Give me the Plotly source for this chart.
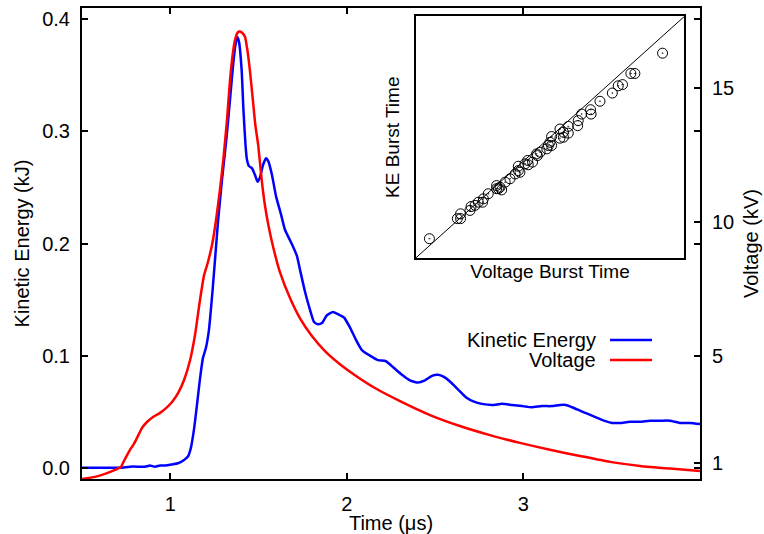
import plotly.graph_objects as go

# ---- Kinetic energy (left axis, kJ) ----
ke_t = [0.50,0.602,0.715,0.772,0.828,0.857,0.885,0.913,0.942,0.970,
        1.010,1.044,1.078,1.100,1.117,1.134,1.151,1.168,1.185,1.202,
        1.219,1.240,1.270,1.293,1.319,1.338,1.357,1.369,1.380,1.389,
        1.404,1.414,1.426,1.434,1.446,1.463,1.480,1.494,1.508,1.525,
        1.542,1.556,1.576,1.599,1.627,1.650,1.687,1.717,1.734,1.763,
        1.791,1.814,1.836,1.859,1.887,1.921,1.950,1.984,2.018,2.052,
        2.085,2.131,2.176,2.221,2.267,2.312,2.357,2.403,2.442,2.482,
        2.516,2.550,2.584,2.629,2.674,2.720,2.765,2.822,2.878,2.935,
        2.992,3.048,3.105,3.161,3.207,3.241,3.275,3.320,3.365,3.411,
        3.456,3.501,3.546,3.603,3.660,3.716,3.773,3.830,3.886,3.943,4.000]
ke = [0.000,0.000,0.000,0.001,0.001,0.001,0.002,0.001,0.002,0.002,
      0.003,0.004,0.007,0.010,0.018,0.034,0.056,0.079,0.098,0.107,
      0.123,0.159,0.219,0.257,0.295,0.328,0.361,0.377,0.384,0.380,
      0.355,0.320,0.288,0.275,0.269,0.267,0.261,0.255,0.259,0.270,
      0.276,0.273,0.261,0.242,0.226,0.212,0.200,0.189,0.177,0.157,
      0.141,0.130,0.128,0.129,0.136,0.139,0.137,0.134,0.125,0.114,
      0.105,0.100,0.096,0.095,0.089,0.083,0.078,0.076,0.078,0.082,
      0.083,0.081,0.077,0.070,0.063,0.059,0.057,0.056,0.057,0.056,
      0.055,0.054,0.055,0.055,0.056,0.056,0.054,0.051,0.048,0.045,
      0.042,0.040,0.040,0.041,0.041,0.042,0.042,0.042,0.040,0.040,0.039]

# ---- Voltage (right axis, kV) ----
v_t = [0.500,0.574,0.630,0.687,0.721,0.732,0.749,0.772,0.794,0.817,
       0.840,0.868,0.902,0.942,0.976,1.010,1.044,1.078,1.112,1.140,
       1.168,1.191,1.213,1.236,1.259,1.281,1.300,1.321,1.338,1.355,
       1.366,1.378,1.389,1.406,1.423,1.437,1.451,1.468,1.482,1.498,
       1.518,1.536,1.559,1.587,1.621,1.678,1.734,1.802,1.876,1.961,
       2.046,2.159,2.301,2.471,2.640,2.810,2.980,3.150,3.320,3.490,
       3.660,3.830,4.000]
volt = [0.40,0.48,0.59,0.74,0.85,1.00,1.22,1.49,1.71,2.01,
        2.31,2.53,2.72,2.87,3.05,3.28,3.61,4.10,4.84,5.78,
        7.08,8.01,8.50,9.13,10.07,11.19,12.31,13.80,15.29,16.34,
        16.78,17.04,17.12,17.08,16.93,16.41,15.66,14.54,13.61,12.87,
        11.56,10.63,9.77,8.95,8.13,7.16,6.41,5.74,5.18,4.69,
        4.28,3.80,3.31,2.79,2.38,2.04,1.75,1.49,1.26,1.04,
        0.89,0.79,0.70]

# ---- Inset: burst times (normalised) ----
v_burst = [0.051,0.155,0.167,0.167,0.202,0.206,0.221,0.233,0.249,0.252,
           0.270,0.301,0.301,0.308,0.320,0.314,0.333,0.351,0.370,0.382,
           0.382,0.388,0.407,0.419,0.417,0.435,0.450,0.453,0.463,0.488,
           0.494,0.500,0.506,0.506,0.537,0.537,0.550,0.550,0.568,0.568,
           0.603,0.605,0.618,0.651,0.653,0.686,0.732,0.754,0.770,0.801,
           0.816,0.919]
ke_burst = [0.080,0.163,0.163,0.183,0.197,0.213,0.218,0.231,0.231,0.245,
            0.266,0.287,0.300,0.287,0.282,0.293,0.314,0.328,0.348,0.362,
            0.380,0.355,0.390,0.386,0.404,0.397,0.431,0.424,0.438,0.452,
            0.466,0.479,0.466,0.503,0.534,0.496,0.521,0.500,0.545,0.517,
            0.548,0.569,0.596,0.614,0.596,0.649,0.683,0.713,0.718,0.764,
            0.764,0.848]
diag = [0, 1]

x_ticks = [1, 2, 3]
ke_ticks = [0.0, 0.1, 0.2, 0.3, 0.4]
v_ticks = [1, 5, 10, 15]

FONT = "Liberation Sans, Arial, Helvetica, sans-serif"
BLUE = "#0000ff"
RED = "#ff0000"

fig = go.Figure()
fig.add_trace(go.Scatter(x=ke_t, y=ke, mode="lines", name="Kinetic Energy",
                         line=dict(color=BLUE, width=2.5, shape="spline", smoothing=0.5),
                         xaxis="x", yaxis="y", showlegend=False))
fig.add_trace(go.Scatter(x=v_t, y=volt, mode="lines", name="Voltage",
                         line=dict(color=RED, width=2.5, shape="spline", smoothing=0.5),
                         xaxis="x", yaxis="y2", showlegend=False))
fig.add_trace(go.Scatter(x=diag, y=diag, mode="lines", line=dict(color="#000", width=1),
                         xaxis="x3", yaxis="y3", showlegend=False, hoverinfo="skip"))
fig.add_trace(go.Scatter(x=v_burst, y=ke_burst, mode="markers",
                         marker=dict(symbol="circle-open-dot", size=10, color="#000",
                                     line=dict(width=1, color="#000")),
                         xaxis="x3", yaxis="y3", showlegend=False))

common = dict(showline=True, linecolor="#000", linewidth=2, ticks="inside", ticklen=6,
              tickwidth=1.5, tickcolor="#000", showgrid=False, zeroline=False,
              automargin=False, tickfont=dict(size=20, color="#000"))

fig.update_layout(
    width=764, height=534,
    margin=dict(l=82, r=64, t=8, b=55),
    paper_bgcolor="white", plot_bgcolor="white",
    font=dict(family=FONT, size=20, color="#000"),
    xaxis=dict(common, range=[0.5, 4.0], tickvals=x_ticks, mirror="ticks",
               ticklabelstandoff=6,
               title=dict(text="Time (μs)", standoff=5, font=dict(size=20))),
    yaxis=dict(common, range=[-0.01, 0.41], tickvals=ke_ticks, tickformat=".1f",
               mirror="ticks", ticklabelstandoff=6,
               title=dict(text="Kinetic Energy (kJ)", standoff=7, font=dict(size=20))),
    yaxis2=dict(common, range=[0.4, 18.0], tickvals=v_ticks, overlaying="y", side="right",
                anchor="x", ticklabelstandoff=6,
                title=dict(text="Voltage (kV)", standoff=11, font=dict(size=20))),
    xaxis3=dict(domain=[0.540, 0.9746], anchor="y3", range=[0, 1], showticklabels=False,
                ticks="", showline=True, mirror=True, linecolor="#000", linewidth=1.5,
                showgrid=False, zeroline=False, automargin=False,
                title=dict(text="Voltage Burst Time", standoff=6, font=dict(size=19))),
    yaxis3=dict(domain=[0.4692, 0.982], anchor="x3", range=[0, 1], showticklabels=False,
                ticks="", showline=True, mirror=True, linecolor="#000", linewidth=1.5,
                showgrid=False, zeroline=False, automargin=False,
                title=dict(text="KE Burst Time", standoff=9, font=dict(size=19))),
)

# Legend (gnuplot style: text right-aligned, sample line to the right)
legend_rows = [("Kinetic Energy", BLUE, 0.2951), ("Voltage", RED, 0.2527)]
for label, col, yy in legend_rows:
    fig.add_annotation(x=0.835, y=yy, xref="paper", yref="paper", text=label,
                       showarrow=False, xanchor="right", yanchor="middle",
                       font=dict(size=20, color="#000"))
    fig.add_shape(type="line", xref="paper", yref="paper", x0=0.8544, x1=0.9223,
                  y0=yy, y1=yy, line=dict(color=col, width=2.5))

fig.write_html("out.html")
